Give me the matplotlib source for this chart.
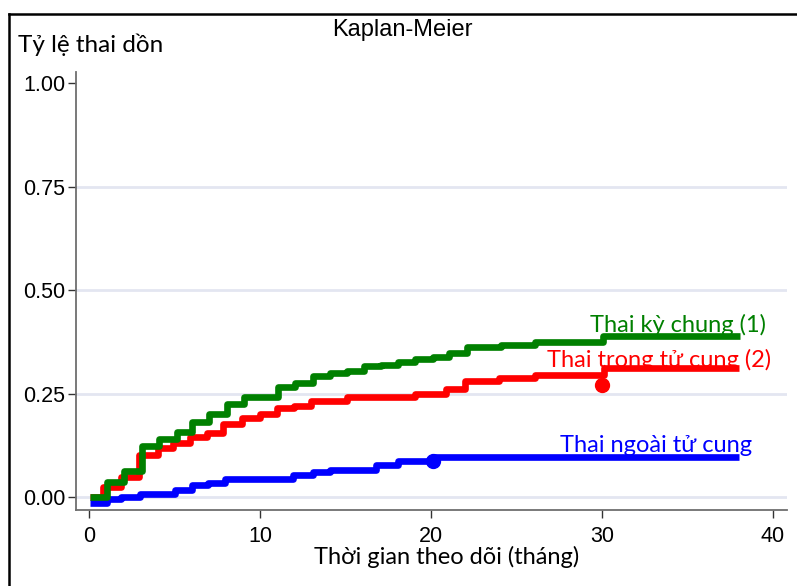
import matplotlib
matplotlib.use("Agg")
import matplotlib.pyplot as plt
from matplotlib.lines import Line2D

# ---- data ----
green_t = [0.06, 1.03, 2.05, 3.08, 4.1, 5.12, 6.0, 7.0, 8.05, 9.06, 11.07, 12.05, 13.1, 14.1,
           15.07, 16.1, 17.1, 18.1, 19.06, 20.1, 21.05, 22.1, 24.1, 26.1, 30.08, 38.1]
green_v = [0.0, 0.037, 0.064, 0.122, 0.139, 0.156, 0.182, 0.2, 0.225, 0.242, 0.265, 0.275, 0.292, 0.299,
           0.305, 0.316, 0.32, 0.327, 0.333, 0.337, 0.348, 0.362, 0.367, 0.375, 0.39, 0.39]

red_t = [0.06, 0.8, 1.9, 2.95, 4.05, 4.9, 5.9, 6.88, 7.85, 8.93, 10.0, 11.0, 12.0, 13.0,
         15.07, 19.06, 20.9, 22.0, 24.0, 26.1, 30.1, 38.0]
red_v = [0.0, 0.025, 0.048, 0.101, 0.118, 0.131, 0.144, 0.155, 0.176, 0.19, 0.2, 0.214, 0.22, 0.233,
         0.242, 0.25, 0.262, 0.28, 0.287, 0.295, 0.311, 0.311]

blue_t = [0.06, 1.03, 1.9, 2.98, 5.03, 6.0, 6.98, 7.95, 11.95, 13.1, 14.1, 16.8, 18.1, 20.1, 38.0]
blue_v = [-0.015, -0.006, -0.001, 0.007, 0.017, 0.029, 0.035, 0.043, 0.053, 0.061, 0.066, 0.077,
          0.087, 0.096, 0.096]

censor_blue = (20.1, 0.088)
censor_red = (30.0, 0.27)

labels = ["Thai kỳ chung (1)", "Thai trong tử cung (2)", "Thai ngoài tử cung"]
label_pos = [(39.58, 0.399), (39.91, 0.3145), (38.76, 0.109)]
colors = ["#008000", "#ff0000", "#0000ff"]

xticks = [0, 10, 20, 30, 40]
yticks = [0.0, 0.25, 0.5, 0.75, 1.0]
ytick_labels = ["0.00", "0.25", "0.50", "0.75", "1.00"]
grid_levels = [0.0, 0.25, 0.5, 0.75]

title = "Kaplan-Meier"
ylabel = "Tỷ lệ thai dồn"
xlabel = "Thời gian theo dõi (tháng)"

LABEL_FONT = ["Lato", "DejaVu Sans"]
TICK_FONT = ["Liberation Sans", "DejaVu Sans"]

W, H = 797, 586
fig = plt.figure(figsize=(W / 100, H / 100), dpi=100)
fig.patch.set_facecolor("white")

ax = fig.add_axes([76 / W, 1 - 510 / H, (787 - 76) / W, (510 - 72) / H])
ax.set_xlim(-0.76, 40.82)
ax.set_ylim(-0.0314, 1.0266)

for g in grid_levels:
    ax.axhline(g, color="#e3e6f1", lw=2.0, zorder=1)

lw = 4.8
ax.plot(red_t, red_v, drawstyle="steps-post", color=colors[1], lw=lw, zorder=3,
        solid_capstyle="butt")
ax.plot(green_t, green_v, drawstyle="steps-post", color=colors[0], lw=lw, zorder=4,
        solid_capstyle="butt")
ax.plot(blue_t, blue_v, drawstyle="steps-post", color=colors[2], lw=lw, zorder=3,
        solid_capstyle="butt")
ax.plot([censor_blue[0]], [censor_blue[1]], "o", color=colors[2], ms=10, zorder=5)
ax.plot([censor_red[0]], [censor_red[1]], "o", color=colors[1], ms=10, zorder=5)

for lab, (x, y), c in zip(labels, label_pos, colors):
    ax.text(x, y, lab, color=c, ha="right", va="baseline", fontsize=17,
            family=LABEL_FONT, zorder=6)

for s in ["top", "right"]:
    ax.spines[s].set_visible(False)
for s in ["left", "bottom"]:
    ax.spines[s].set_color("#6e6e6e")
    ax.spines[s].set_linewidth(1.3)

ax.set_xticks(xticks)
ax.set_xticklabels([str(x) for x in xticks])
ax.set_yticks(yticks)
ax.set_yticklabels(ytick_labels)
ax.tick_params(axis="both", direction="out", length=5.5, width=1.0, color="#333333",
               labelsize=15.5)
ax.tick_params(axis="y", pad=2)
ax.tick_params(axis="x", pad=6)
for lbl in ax.get_xticklabels() + ax.get_yticklabels():
    lbl.set_family(TICK_FONT)

fig.text(402.5 / W, 1 - 30 / H, title, ha="center", va="center", fontsize=17,
         family=TICK_FONT)
fig.text(18 / W, 1 - 51.7 / H, ylabel, ha="left", va="baseline", fontsize=17.5,
         family=LABEL_FONT)
fig.text(446.5 / W, 1 - 564 / H, xlabel, ha="center", va="baseline", fontsize=17,
         family=LABEL_FONT)

# outer frame (top and left)
fig.add_artist(Line2D([9 / W, 1.0], [1 - 14 / H, 1 - 14 / H], transform=fig.transFigure,
                      color="black", lw=1.8))
fig.add_artist(Line2D([9 / W, 9 / W], [1 - 14 / H, 0.0], transform=fig.transFigure,
                      color="black", lw=1.8))

fig.savefig("out.png", dpi=100)
